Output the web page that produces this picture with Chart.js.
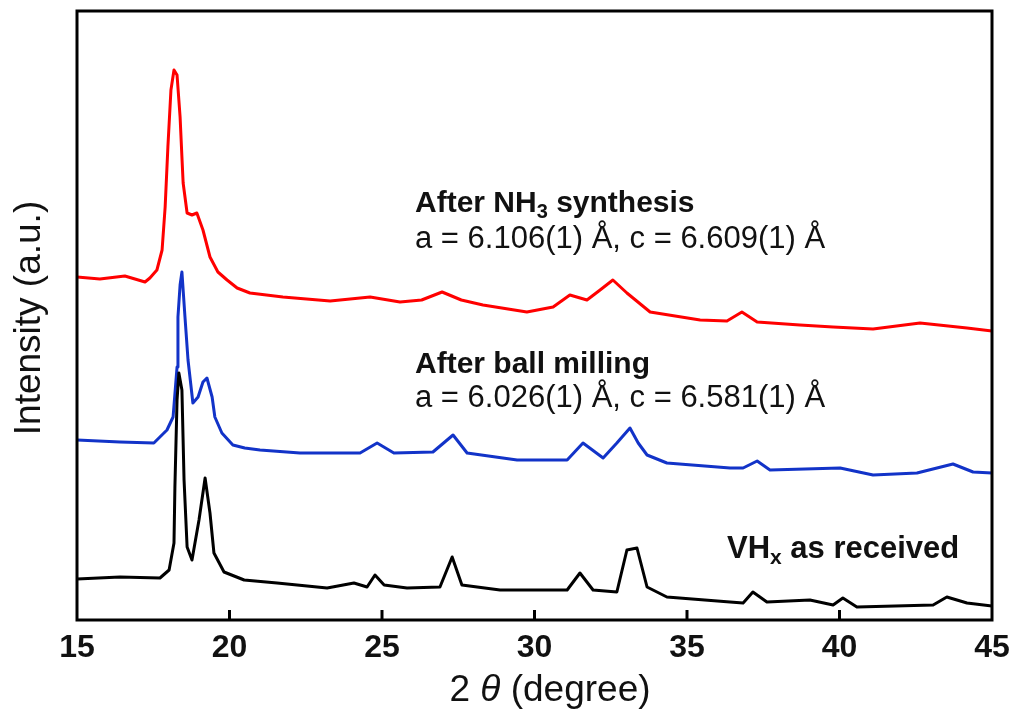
<!DOCTYPE html>
<html>
<head>
<meta charset="utf-8">
<script src="https://cdn.jsdelivr.net/npm/chart.js@4.4.1/dist/chart.umd.min.js"></script>
<style>
  html, body { margin: 0; padding: 0; background: #fff; }
  #wrap { width: 1016px; height: 713px; position: relative; }
</style>
</head>
<body>
<div id="wrap"><canvas id="c" width="1016" height="713"></canvas></div>
<script>
// ---- data (2θ in degree, intensity in a.u., offset stacked as in the figure) ----
const xTicks = [15, 20, 25, 30, 35, 40, 45];

const redTheta = [15.00,15.75,16.57,17.23,17.39,17.62,17.79,17.89,17.98,18.08,18.18,18.28,18.38,18.44,18.48,18.61,18.77,18.93,19.13,19.36,19.62,19.92,20.25,20.67,21.75,23.30,24.61,25.59,26.30,26.97,27.60,28.31,29.75,30.61,31.16,31.72,32.15,32.57,33.03,33.23,33.79,35.43,36.31,36.80,37.30,38.70,39.79,41.10,42.64,44.18,45.00];
const redIntensity = [343,341,344,338,342,350,370,413,473,530,550,545,503,463,437,407,405,407,390,363,348,340,332,327,323,319,323,318,320,328,320,315,308,313,325,320,330,340,327,322,308,300,299,308,298,295,293,291,297,292,289];

const blueTheta = [15.00,16.41,17.52,17.95,18.15,18.28,18.31,18.38,18.44,18.54,18.64,18.80,18.97,19.13,19.26,19.43,19.52,19.75,20.11,20.50,21.00,22.31,23.85,24.28,24.84,25.39,26.67,27.33,27.79,29.43,31.07,31.59,32.25,32.70,33.13,33.40,33.69,34.34,36.41,36.84,37.30,37.72,40.02,41.10,42.54,43.72,44.38,45.00];
const blueIntensity = [180,178,177,190,203,253,303,335,348,303,260,217,223,238,242,223,203,187,175,172,170,167,167,167,177,167,168,185,167,160,160,177,162,177,192,177,165,157,152,152,159,150,152,145,147,156,148,147];

const blackTheta = [15.00,16.41,17.72,18.02,18.18,18.21,18.28,18.34,18.44,18.51,18.61,18.77,19.00,19.20,19.36,19.49,19.82,20.48,21.56,23.20,24.08,24.51,24.77,25.07,25.82,26.90,27.30,27.62,28.87,31.07,31.49,31.92,32.70,33.03,33.36,33.69,34.34,36.41,36.84,37.16,37.62,39.03,39.79,40.11,40.57,43.07,43.52,44.18,45.00];
const blackIntensity = [41,43,42,50,77,133,220,247,230,140,73,60,100,142,107,67,48,40,37,32,37,33,45,35,32,33,63,35,30,30,47,30,28,70,72,33,23,18,17,28,18,20,15,22,13,15,23,17,14];

const seriesNames = ['VHx as received', 'After ball milling', 'After NH3 synthesis'];

// ---- build points ----
function zip(xs, ys) { return xs.map((x, i) => ({ x: x, y: ys[i] })); }

const FONT = "'Liberation Sans', Arial, sans-serif";

function drawRuns(ctx, x, y, runs, align) {
  let total = 0;
  runs.forEach(r => { ctx.font = r.font; total += ctx.measureText(r.t).width; });
  let cx = align === 'center' ? x - total / 2 : x;
  runs.forEach(r => {
    ctx.font = r.font;
    ctx.fillText(r.t, cx, y + (r.dy || 0));
    cx += ctx.measureText(r.t).width;
  });
}

const decor = {
  id: 'decor',
  afterDraw(chart) {
    const ctx = chart.ctx, a = chart.chartArea, xs = chart.scales.x;
    ctx.save();
    ctx.strokeStyle = '#000';
    ctx.lineWidth = 3;
    ctx.strokeRect(a.left, a.top, a.right - a.left, a.bottom - a.top);
    xTicks.forEach(v => {
      if (v > xs.min && v < xs.max) {
        const px = xs.getPixelForValue(v);
        ctx.beginPath();
        ctx.moveTo(px, a.bottom);
        ctx.lineTo(px, a.bottom - 10);
        ctx.stroke();
      }
    });

    ctx.fillStyle = '#111';
    ctx.textBaseline = 'alphabetic';
    ctx.textAlign = 'left';
    const B = 'bold 30px ' + FONT, Bs = 'bold 20px ' + FONT;
    const R = '31px ' + FONT;
    drawRuns(ctx, 415, 212, [{t: 'After NH', font: B}, {t: '3', font: Bs, dy: 6}, {t: ' synthesis', font: B}]);
    drawRuns(ctx, 415, 248, [{t: 'a = 6.106(1) Å, c = 6.609(1) Å', font: R}]);
    drawRuns(ctx, 415, 373, [{t: 'After ball milling', font: B}]);
    drawRuns(ctx, 415, 407, [{t: 'a = 6.026(1) Å, c = 6.581(1) Å', font: R}]);
    drawRuns(ctx, 727, 558, [{t: 'VH', font: 'bold 31px ' + FONT}, {t: 'x', font: 'bold 21px ' + FONT, dy: 6}, {t: ' as received', font: 'bold 31px ' + FONT}]);

    // axis titles
    const T = '37px ' + FONT, Ti = 'italic 37px ' + FONT;
    drawRuns(ctx, 550, 701, [{t: '2 ', font: T}, {t: 'θ', font: Ti}, {t: ' (degree)', font: T}], 'center');
    ctx.translate(40, 318);
    ctx.rotate(-Math.PI / 2);
    drawRuns(ctx, 0, 0, [{t: 'Intensity (a.u.)', font: '37px ' + FONT}], 'center');
    ctx.restore();
  }
};

new Chart(document.getElementById('c'), {
  type: 'line',
  data: {
    datasets: [
      { label: seriesNames[0], data: zip(blackTheta, blackIntensity), borderColor: '#000000' },
      { label: seriesNames[1], data: zip(blueTheta, blueIntensity), borderColor: '#1233c8' },
      { label: seriesNames[2], data: zip(redTheta, redIntensity), borderColor: '#ff0000' }
    ]
  },
  options: {
    responsive: false,
    animation: false,
    devicePixelRatio: 1,
    layout: { padding: { left: 77, right: 24, top: 11, bottom: 0 } },
    elements: {
      point: { radius: 0 },
      line: { borderWidth: 3, tension: 0, borderJoinStyle: 'round' }
    },
    plugins: { legend: { display: false }, tooltip: { enabled: false } },
    scales: {
      x: {
        type: 'linear',
        min: 15, max: 45,
        grid: { display: false, drawTicks: false },
        border: { display: false },
        ticks: {
          stepSize: 5, autoSkip: false, maxRotation: 0, padding: 9,
          color: '#111',
          font: { family: FONT, size: 32, weight: 'bold' },
          callback: v => xTicks.includes(v) ? String(v) : ''
        },
        afterFit(s) { s.height = 93; s.paddingLeft = 0; s.paddingRight = 0; }
      },
      y: {
        display: false,
        min: 0, max: 609
      }
    }
  },
  plugins: [decor]
});
</script>
</body>
</html>
